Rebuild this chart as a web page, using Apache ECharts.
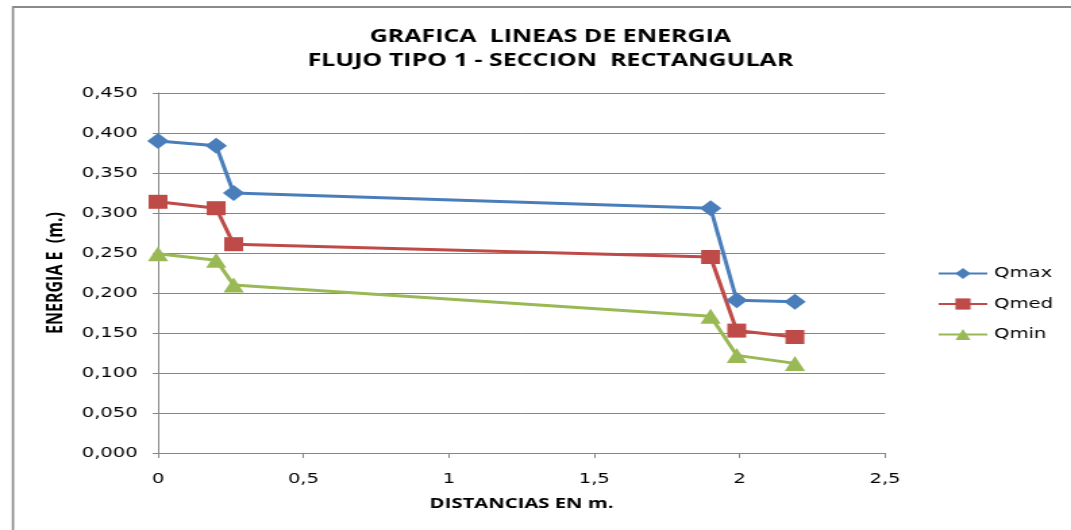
<!DOCTYPE html>
<html>
<head>
<meta charset="utf-8">
<script src="https://cdn.jsdelivr.net/npm/echarts@6/dist/echarts.min.js"></script>
<style>
  html, body { margin: 0; padding: 0; background: #fff; overflow: hidden; }
  /* the chart is laid out on a narrower canvas and widened to fill the page */
  #chart { width: 793px; height: 530px; transform: scaleX(1.3506); transform-origin: 0 0; }
</style>
</head>
<body>
<div id="chart"></div>
<script>
// Distancias (m) de cada sección
const distancias = [0, 0.2, 0.26, 1.9, 1.99, 2.19];
// Energía específica E (m) para cada caudal
const qmax = [0.390, 0.384, 0.325, 0.306, 0.191, 0.189];
const qmed = [0.314, 0.306, 0.261, 0.245, 0.153, 0.145];
const qmin = [0.249, 0.241, 0.210, 0.171, 0.122, 0.112];
const seriesNames = ['Qmax', 'Qmed', 'Qmin'];

const pairs = (ys) => distancias.map((x, i) => [x, ys[i]]);
const fontBold = '"Open Sans", "Liberation Sans", sans-serif';
const fontLabel = '"DejaVu Sans", "Liberation Sans", sans-serif';

const chart = echarts.init(document.getElementById('chart'));

function serie(name, data, color, symbol, size) {
  return {
    name, type: 'line', data: pairs(data),
    symbol, symbolSize: size,
    lineStyle: { color, width: 3 },
    itemStyle: { color },
    animation: false
  };
}

chart.setOption({
  animation: false,
  title: {
    text: 'GRAFICA  LINEAS DE ENERGIA\nFLUJO TIPO 1 - SECCION  RECTANGULAR',
    left: 402.5, top: 20, textAlign: 'center',
    textStyle: { fontFamily: fontBold, fontWeight: 'bold', fontSize: 18.5, lineHeight: 24, color: '#000' }
  },
  graphic: [
    { type: 'line', shape: { x1: 9.6, y1: 6, x2: 9.6, y2: 530 }, style: { stroke: '#8a8a8a', lineWidth: 1.6 } },
    { type: 'line', shape: { x1: 9, y1: 7, x2: 793, y2: 7 }, style: { stroke: '#8a8a8a', lineWidth: 2 } }
  ],
  legend: {
    orient: 'vertical', left: 689, top: 261, itemGap: 15.5,
    itemWidth: 36, itemHeight: 14,
    data: seriesNames,
    textStyle: { fontFamily: fontLabel, fontSize: 14.5, color: '#000' }
  },
  grid: { left: 117, right: 137.7, top: 93, bottom: 77 },
  xAxis: {
    type: 'value', min: 0, max: 2.5, interval: 0.5,
    name: 'DISTANCIAS EN m.', nameLocation: 'middle', nameGap: 43,
    nameTextStyle: { fontFamily: fontBold, fontWeight: 'bold', fontSize: 15, color: '#000' },
    axisLine: { show: true, lineStyle: { color: '#868686', width: 1 } },
    axisTick: { show: true, length: 5, lineStyle: { color: '#868686' } },
    axisLabel: {
      margin: 19, fontFamily: fontLabel, fontSize: 14.5, color: '#000',
      formatter: v => String(v).replace('.', ',')
    },
    splitLine: { show: false }
  },
  yAxis: {
    type: 'value', min: 0, max: 0.45, interval: 0.05,
    name: 'ENERGIA E  (m.)', nameLocation: 'middle', nameGap: 65, nameRotate: 90,
    nameTextStyle: { fontFamily: fontBold, fontWeight: 'bold', fontSize: 16, color: '#000' },
    axisLine: { show: true, lineStyle: { color: '#868686', width: 1 } },
    axisTick: { show: true, length: 4, lineStyle: { color: '#868686' } },
    axisLabel: {
      margin: 15, fontFamily: fontLabel, fontSize: 14.5, color: '#000',
      formatter: v => v.toFixed(3).replace('.', ',')
    },
    splitLine: { show: true, lineStyle: { color: '#868686', width: 1 } }
  },
  series: [
    serie(seriesNames[0], qmax, '#4A7EBB', 'diamond', 16),
    serie(seriesNames[1], qmed, '#BE4B48', 'rect', 14),
    serie(seriesNames[2], qmin, '#98B954', 'triangle', 15)
  ]
});
</script>
</body>
</html>
